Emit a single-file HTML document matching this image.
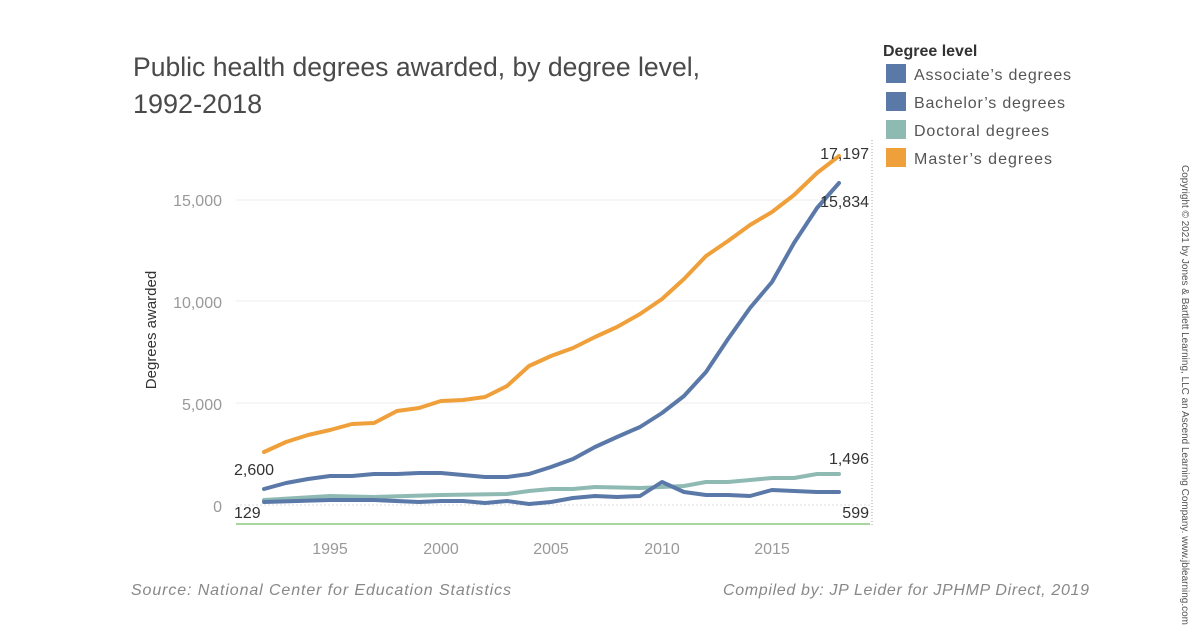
<!DOCTYPE html>
<html><head><meta charset="utf-8"><style>
body{margin:0;background:#fff;width:1200px;height:630px;overflow:hidden;font-family:"Liberation Sans",sans-serif}
</style></head><body>
<svg width="1200" height="630" xmlns="http://www.w3.org/2000/svg" font-family="Liberation Sans, sans-serif">
<text x="133" y="76" font-size="27" fill="#4a4a4a" textLength="567" lengthAdjust="spacingAndGlyphs">Public health degrees awarded, by degree level,</text>
<text x="133" y="113" font-size="27" fill="#4a4a4a">1992-2018</text>
<text x="883" y="56" font-size="16" font-weight="bold" fill="#333">Degree level</text>
<rect x="886" y="64" width="20" height="19" fill="#5b79a8"/><text x="914" y="80" font-size="16" fill="#555" textLength="157">Associate’s degrees</text>
<rect x="886" y="92" width="20" height="19" fill="#5b79a8"/><text x="914" y="108" font-size="16" fill="#555" textLength="151">Bachelor’s degrees</text>
<rect x="886" y="120" width="20" height="19" fill="#8fbab3"/><text x="914" y="136" font-size="16" fill="#555" textLength="135">Doctoral degrees</text>
<rect x="886" y="148" width="20" height="19" fill="#f0a03a"/><text x="914" y="164" font-size="16" fill="#555" textLength="138">Master’s degrees</text>
<line x1="236" y1="403" x2="870" y2="403" stroke="#eee"/>
<line x1="236" y1="301" x2="870" y2="301" stroke="#eee"/>
<line x1="236" y1="200" x2="870" y2="200" stroke="#eee"/>
<line x1="236" y1="505" x2="870" y2="505" stroke="#ddd" stroke-dasharray="2,2"/>
<line x1="872" y1="140" x2="872" y2="525" stroke="#aaa" stroke-dasharray="1,2"/>
<line x1="236" y1="524" x2="870" y2="524" stroke="#8cc97f" stroke-width="1.5"/>
<g font-size="16" fill="#999" text-anchor="end">
<text x="222" y="206">15,000</text><text x="222" y="308">10,000</text><text x="222" y="410">5,000</text><text x="222" y="512">0</text></g>
<g font-size="16" fill="#999" text-anchor="middle">
<text x="330" y="554">1995</text><text x="441" y="554">2000</text><text x="551" y="554">2005</text><text x="662" y="554">2010</text><text x="772" y="554">2015</text></g>
<text transform="translate(156,330) rotate(-90)" text-anchor="middle" font-size="15" fill="#333">Degrees awarded</text>
<g fill="none" stroke-width="4" stroke-linejoin="round" stroke-linecap="round">
<polyline stroke="#8fbab3" points="264,500 330,496 374,497 441,495 507,494 529,491 551,489 573,489 595,487 640,488 662,487 684,486 706,482 728,482 750,480 772,478 794,478 817,474 839,474"/>
<polyline stroke="#5b79a8" points="264,502 330,500 374,500 419,502 441,501 463,501 485,503 507,501 529,504 551,502 573,498 595,496 617,497 640,496 662,482 684,492 706,495 728,495 750,496 772,490 794,491 817,492 839,492"/>
<polyline stroke="#5b79a8" points="264,489 286,483 308,479 330,476 352,476 374,474 397,474 419,473 441,473 463,475 485,477 507,477 529,474 551,467 573,459 595,447 617,437 640,427 662,413 684,396 706,372 728,339 750,308 772,282 794,243 817,208 839,183"/>
<polyline stroke="#f0a03a" points="264,452 286,442 308,435 330,430 352,424 374,423 397,411 419,408 441,401 463,400 485,397 507,386 529,366 551,356 573,348 595,337 617,327 640,314 662,299 684,279 706,256 728,241 750,225 772,212 794,195 817,173 839,156"/>
</g>
<g font-size="16" fill="#333">
<text x="234" y="475">2,600</text><text x="234" y="518">129</text>
<text x="869" y="159" text-anchor="end">17,197</text><text x="869" y="207" text-anchor="end">15,834</text>
<text x="869" y="464" text-anchor="end">1,496</text><text x="869" y="518" text-anchor="end">599</text></g>
<text x="131" y="595" font-size="16" font-style="italic" fill="#888" textLength="380">Source: National Center for Education Statistics</text>
<text x="723" y="595" font-size="16" font-style="italic" fill="#888" textLength="366">Compiled by: JP Leider for JPHMP Direct, 2019</text>
<text transform="translate(1182,165) rotate(90)" font-size="10" fill="#555" textLength="460">Copyright © 2021 by Jones &amp; Bartlett Learning, LLC an Ascend Learning Company. www.jblearning.com</text>
</svg>
</body></html>
